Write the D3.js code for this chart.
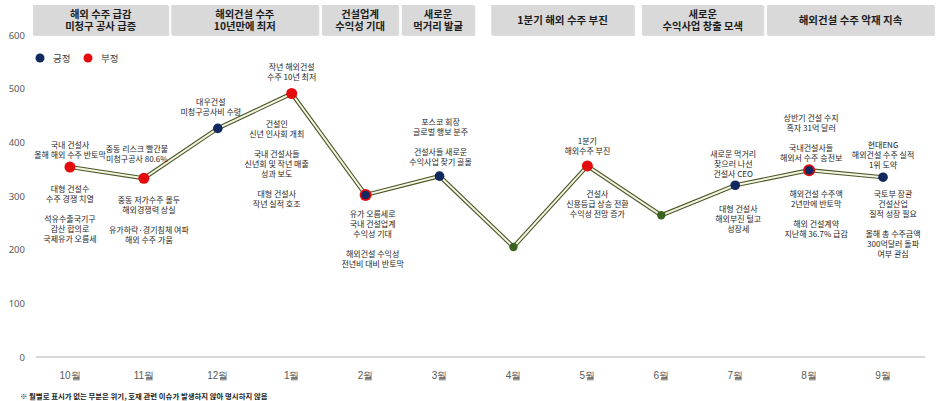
<!DOCTYPE html>
<html><head><meta charset="utf-8">
<script src="https://cdn.jsdelivr.net/npm/d3@7"></script>
<style>
html,body{margin:0;padding:0;background:#fff;}
svg{display:block;font-family:"Noto Sans CJK KR","Noto Sans",sans-serif;}
</style></head>
<body><svg id="chart" width="939" height="401"></svg>
<script>
const months = ['10월','11월','12월','1월','2월','3월','4월','5월','6월','7월','8월','9월'];
const values = [354,333,426,491,302,337,205,356,264,320,348,335];
const sentiment = ['neg','neg','pos','neg','both','pos','none','neg','none','pos','both','pos'];
const yTicks = [0,100,200,300,400,500,600];
const legendLabels = ['긍정','부정'];
const headerText = [['해외 수주 급감','미청구 공사 급증'],['해외건설 수주','10년만에 최저'],['건설업계','수익성 기대'],['새로운','먹거리 발굴'],['1분기 해외 수주 부진'],['새로운','수익사업 창출 모색'],['해외건설 수주 악재 지속']];
const headerFrom = [0,1.87,3.91,4.99,6.2,8.24,9.93];
const headerTo = [1.83,3.86,4.94,5.97,8.13,9.88,12.19];
const notesAbove = [
 [['국내 건설사','올해 해외 수주 반토막']],
 [['중동 리스크 빨간불','미청구공사 80.6%']],
 [['대우건설','미청구공사비 수령']],
 [['작년 해외건설','수주 10년 최저']],
 [],
 [['포스코 회장','글로벌 행보 분주'],['건설사들 새로운','수익사업 찾기 골몰']],
 [],
 [['1분기','해외수주 부진']],
 [],
 [['새로운 먹거리','찾으러 나선','건설사 CEO']],
 [['상반기 건설 수지','흑자 31억 달러'],['국내건설사들','해외서 수주 승전보']],
 [['현대ENG','해외건설 수주 실적','1위 도약']]
];
const notesBelow = [
 [['대형 건설수','수주 경쟁 치열'],['석유수출국기구','감산 합의로','국제유가 오름세']],
 [['중동 저가수주 몰두','해외경쟁력 상실'],['유가하락·경기침체 여파','해외 수주 가뭄']],
 [],
 [['건설인','신년 인사회 개최'],['국내 건설사들','신년회 및 작년 매출','성과 보도'],['대형 건설사','작년 실적 호조']],
 [['유가 오름세로','국내 건설업계','수익성 기대'],['해외건설 수익성','전년비 대비 반토막']],
 [],
 [],
 [['건설사','신용등급 상승 전환','수익성 전망 증가']],
 [],
 [['대형 건설사','해외부진 털고','성장세']],
 [['해외건설 수주액','2년만에 반토막'],['해외 건설계약','지난해 36.7% 급감']],
 [['국토부 장관','건설산업','질적 성장 필요'],['올해 총 수주금액','300억달러 돌파','여부 관심']]
];
const footnote = '※ 월별로 표시가 없는 부분은 위기, 호재 관련 이슈가 발생하지 않아 명시하지 않음';

// label layout nudges (pixels): gap from point and horizontal shift
const aboveGap = [13,20,17,17,15,15,15,15,15,12,13,13];
const aboveDx  = [0,-7,-7,0,0,1,0,0,0,-2,2,0];
const belowGap = [21,21,22,30,19,22,22,28,22,23,23,16];
const belowDx  = [0,5,0,-15,7,0,0,10,0,3,7,10];

const NAVY='#12295f', RED='#e30b0b', GREEN='#3b6320';
const svg = d3.select('#chart');
const x = d3.scaleBand().domain(months).range([33,920]);
const xm = d3.scaleLinear().domain([0,12]).range([33,920]);
const y = d3.scaleLinear().domain([0,600]).range([357,35]);
const cx = i => x(months[i]) + x.bandwidth()/2;

// header boxes
const hg = svg.append('g');
headerText.forEach((lines,i)=>{
  const x0 = xm(headerFrom[i]), x1 = xm(headerTo[i]);
  hg.append('rect').attr('x',x0+1).attr('y',6).attr('width',x1-x0).attr('height',30).attr('fill','#bdbdbd').attr('opacity',0.5);
  hg.append('rect').attr('x',x0).attr('y',5).attr('width',x1-x0).attr('height',30).attr('fill','#d9d9d9');
  const mid = (x0+x1)/2;
  const n = lines.length;
  const lh = 12.5;
  const txt = hg.append('text').attr('text-anchor','middle')
    .attr('font-size',n>1?10.3:10.5).attr('font-weight',700).attr('fill','#1c1c1c');
  lines.forEach((t,j)=>{
    txt.append('tspan').attr('x',mid).attr('y',20.5 + (j-(n-1)/2)*lh).attr('dy','0.36em').text(t);
  });
});

// y axis labels
const ya = svg.append('g').attr('transform','translate(25,0)')
  .call(d3.axisLeft(y).tickValues(yTicks).tickSize(0).tickPadding(0));
ya.select('.domain').remove();
ya.selectAll('text').attr('font-size',9.5).attr('fill','#595959').attr('font-family','"Noto Sans","Noto Sans CJK KR",sans-serif');

// baseline
svg.append('line').attr('x1',36).attr('x2',925).attr('y1',y(0)).attr('y2',y(0)).attr('stroke','#d9d9d9').attr('stroke-width',2);

// x axis labels
const xa = svg.append('g').attr('transform','translate(0,'+(y(0)+18)+')')
  .call(d3.axisBottom(x).tickSize(0).tickPadding(0));
xa.select('.domain').remove();
xa.selectAll('text').attr('font-size',10).attr('fill','#595959').attr('dy','0.35em');

// line (double-stroke style)
const line = d3.line().x((d,i)=>cx(i)).y(d=>y(d));
svg.append('path').datum(values).attr('d',line).attr('fill','none').attr('stroke','#4a5726').attr('stroke-width',4.2).attr('stroke-linejoin','miter');
svg.append('path').datum(values).attr('d',line).attr('fill','none').attr('stroke','#f6f5e4').attr('stroke-width',2).attr('stroke-linejoin','miter');

// points
values.forEach((v,i)=>{
  const s = sentiment[i];
  const g = svg.append('g');
  if(s==='neg'){
    g.append('circle').attr('cx',cx(i)).attr('cy',y(v)).attr('r',5.5).attr('fill',RED);
  } else if(s==='pos'){
    g.append('circle').attr('cx',cx(i)).attr('cy',y(v)).attr('r',4.8).attr('fill',NAVY);
  } else if(s==='both'){
    g.append('circle').attr('cx',cx(i)).attr('cy',y(v)).attr('r',6).attr('fill',RED);
    g.append('circle').attr('cx',cx(i)).attr('cy',y(v)).attr('r',4.3).attr('fill',NAVY);
  } else {
    g.append('circle').attr('cx',cx(i)).attr('cy',y(v)).attr('r',4.2).attr('fill',GREEN);
  }
});

// annotations
const LH = 10, GG = 20;
const ag = svg.append('g').attr('font-size',8).attr('fill','#1e1e1e').attr('text-anchor','middle');
function flatten(groups){
  const out=[]; let off=0;
  groups.forEach((grp,gi)=>{ if(gi>0) off += GG-LH; grp.forEach(t=>{ out.push({t,off}); off+=LH; }); });
  return {out, total: off-LH};
}
values.forEach((v,i)=>{
  const px = cx(i), py = y(v);
  if(notesAbove[i].length){
    const f = flatten(notesAbove[i]);
    const startY = py - aboveGap[i] - f.total;
    f.out.forEach(d=>ag.append('text').attr('x',px+aboveDx[i]).attr('y',startY+d.off).attr('dominant-baseline','central').text(d.t));
  }
  if(notesBelow[i].length){
    const f = flatten(notesBelow[i]);
    const startY = py + belowGap[i];
    f.out.forEach(d=>ag.append('text').attr('x',px+belowDx[i]).attr('y',startY+d.off).attr('dominant-baseline','central').text(d.t));
  }
});

// legend
const lg = svg.append('g');
[NAVY,RED].forEach((c,i)=>{
  lg.append('circle').attr('cx',40+i*48).attr('cy',58).attr('r',4.5).attr('fill',c);
  lg.append('text').attr('x',53+i*48).attr('y',58).attr('dominant-baseline','central').attr('font-size',9.5).attr('fill','#404040').text(legendLabels[i]);
});

// footnote
svg.append('text').attr('x',20).attr('y',395).attr('dominant-baseline','central').attr('font-size',7.4).attr('fill','#222').attr('font-weight',700).text(footnote);
</script></body></html>
